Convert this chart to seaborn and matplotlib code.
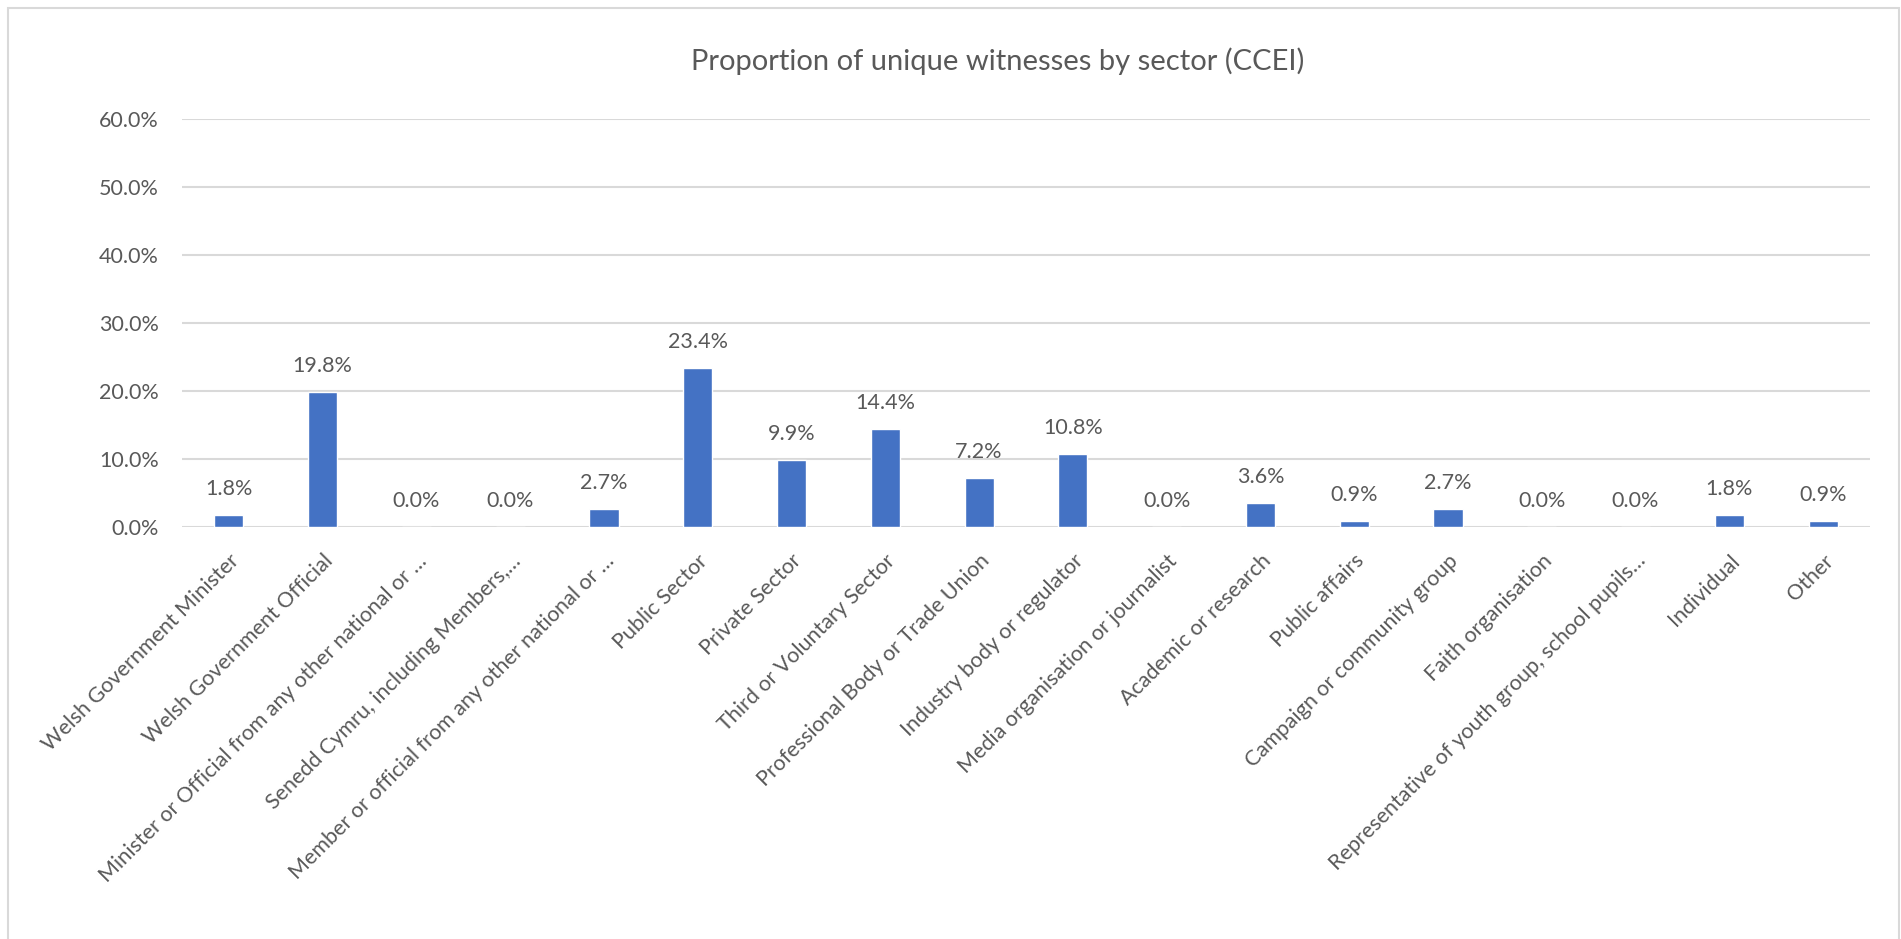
import matplotlib
matplotlib.use('Agg')
import matplotlib.pyplot as plt
import matplotlib.patches as mpatches
from matplotlib.ticker import PercentFormatter
import seaborn as sns
import pandas as pd

# Chart data
sectors = [
    'Welsh Government Minister',
    'Welsh Government Official',
    'Minister or Official from any other national or …',
    'Senedd Cymru, including Members,…',
    'Member or official from any other national or …',
    'Public Sector',
    'Private Sector',
    'Third or Voluntary Sector',
    'Professional Body or Trade Union',
    'Industry body or regulator',
    'Media organisation or journalist',
    'Academic or research',
    'Public affairs',
    'Campaign or community group',
    'Faith organisation',
    'Representative of youth group, school pupils…',
    'Individual',
    'Other',
]
proportions = [1.8, 19.8, 0.0, 0.0, 2.7, 23.4, 9.9, 14.4, 7.2, 10.8,
               0.0, 3.6, 0.9, 2.7, 0.0, 0.0, 1.8, 0.9]
y_ticks = [0, 10, 20, 30, 40, 50, 60]
title = 'Proportion of unique witnesses by sector (CCEI)'

df = pd.DataFrame({'Sector': sectors, 'Proportion': proportions})

sns.set_style('white')
plt.rcParams['font.family'] = ['Lato', 'DejaVu Sans']

text_grey = '#595959'
grid_grey = '#D9D9D9'
bar_blue = '#4472C4'

fig = plt.figure(figsize=(19.01, 9.39), dpi=100)
ax = fig.add_axes([0.09574, 0.43876, 0.88795, 0.43451])

sns.barplot(data=df, x='Sector', y='Proportion', color=bar_blue,
            width=0.31, saturation=1, ax=ax, zorder=3)

ax.set_ylim(0, 60)
ax.set_xlim(-0.5, len(sectors) - 0.5)
ax.set_yticks(y_ticks)
ax.yaxis.set_major_formatter(PercentFormatter(decimals=1))
ax.grid(axis='y', color=grid_grey, linewidth=1.5, zorder=0)
ax.set_axisbelow(True)
sns.despine(ax=ax, left=True, bottom=True)
ax.set_xlabel('')
ax.set_ylabel('')
ax.tick_params(axis='y', length=0, pad=16.5, labelsize=15.5, labelcolor=text_grey)
ax.tick_params(axis='x', length=0, pad=17, labelsize=15.5, labelcolor=text_grey)
plt.setp(ax.get_xticklabels(), rotation=45, ha='right', va='top',
         rotation_mode='anchor')

# Data labels above each bar
for container in ax.containers:
    for bar, val in zip(container, proportions):
        ax.annotate(f'{val:.1f}%', (bar.get_x() + bar.get_width() / 2, bar.get_height()),
                    xytext=(0, 14.4), textcoords='offset points',
                    ha='center', va='baseline', fontsize=15.5, color=text_grey)

fig.text(0.525, 0.9255, title, ha='center', va='baseline',
         fontsize=21, color=text_grey)

# Chart area border
fig.patches.append(mpatches.Rectangle((8 / 1901, -0.05), 1891 / 1901, 1.05 - 8 / 939,
                                      transform=fig.transFigure, fill=False,
                                      edgecolor=grid_grey, linewidth=1.5))

fig.savefig('out.png', dpi=100)
